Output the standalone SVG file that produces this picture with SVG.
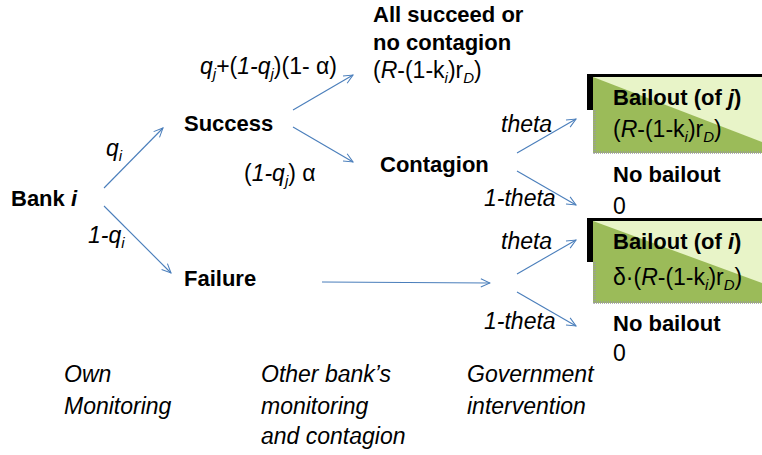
<svg xmlns="http://www.w3.org/2000/svg" width="762" height="455" viewBox="0 0 762 455">
<defs>
<style>
text{font-family:"Liberation Sans",Arial,sans-serif;font-size:23px;fill:#000}
.b{font-weight:bold;font-size:22px}
.i{font-style:italic}
.s{font-size:15px}
.c{stroke:#4a7ebb;stroke-width:1.1;fill:none;marker-end:url(#ah)}
.dk{fill:#9bbb59}
.lt{fill:#e8f4c8}
.edge{fill:none;stroke:#9a9a9a;stroke-width:2.5;stroke-dasharray:1 1}
</style>
<marker id="ah" viewBox="0 0 12 12" refX="11" refY="6" markerWidth="11" markerHeight="11" markerUnits="userSpaceOnUse" orient="auto">
<path d="M1,1.5 L11,6 L1,10.5" fill="none" stroke="#4a7ebb" stroke-width="1.1"/>
</marker>
</defs>
<rect width="762" height="455" fill="#fff"/>

<g id="connectors">
<path class="c" d="M104,188 L163,128"/>
<path class="c" d="M104,206 L171,273"/>
<path class="c" d="M293,110 L353,75"/>
<path class="c" d="M293,127 L353,162"/>
<path class="c" d="M322,282 L490,283"/>
<path class="c" d="M517,153 L576,119"/>
<path class="c" d="M517,171 L576,205"/>
<path class="c" d="M517,274 L576,240"/>
<path class="c" d="M517,292 L576,326"/>
</g>

<g id="bank-i"><text x="11" y="206" class="b">Bank <tspan class="i">i</tspan></text></g>
<g id="label-qi"><text x="106" y="156" class="i">q<tspan class="s" dy="5">i</tspan></text></g>
<g id="label-1-qi"><text x="88" y="243" class="i">1-q<tspan class="s" dy="5">i</tspan></text></g>
<g id="success"><text x="184" y="131" class="b">Success</text></g>
<g id="failure"><text x="184" y="286" class="b">Failure</text></g>
<g id="label-top"><text x="200" y="74"><tspan class="i">q</tspan><tspan class="s i" dy="5">j</tspan><tspan dy="-5">+(</tspan><tspan class="i">1-q</tspan><tspan class="s i" dy="5">j</tspan><tspan dy="-5">)(1- α)</tspan></text></g>
<g id="label-contagion"><text x="244" y="181">(<tspan class="i">1-q</tspan><tspan class="s i" dy="5">j</tspan><tspan dy="-5">) α</tspan></text></g>
<g id="all-succeed">
<text x="373" y="22" class="b">All succeed or</text>
<text x="373" y="50" class="b">no contagion</text>
<text x="373" y="78">(<tspan class="i">R</tspan>-(1-k<tspan class="s i" dy="5">i</tspan><tspan dy="-5">)r</tspan><tspan class="s i" dy="5">D</tspan><tspan dy="-5">)</tspan></text>
</g>
<g id="contagion"><text x="380" y="172" class="b">Contagion</text></g>

<g id="theta-labels">
<text x="501" y="132" class="i">theta</text>
<text x="484" y="206" class="i">1-theta</text>
<text x="501" y="249" class="i">theta</text>
<text x="484" y="329" class="i">1-theta</text>
</g>

<g id="bailout-j">
<rect x="587" y="74" width="175" height="36" fill="#000"/>
<rect class="dk" x="593" y="77" width="169" height="76"/>
<polygon class="lt" points="593,77 762,77 762,142"/>
<path class="edge" d="M594.5,110 V152.5 H762"/>
<text x="613" y="105" class="b">Bailout (of <tspan class="i">j</tspan>)</text>
<text x="613" y="137">(<tspan class="i">R</tspan>-(1-k<tspan class="s i" dy="5">i</tspan><tspan dy="-5">)r</tspan><tspan class="s i" dy="5">D</tspan><tspan dy="-5">)</tspan></text>
</g>
<g id="no-bailout-1">
<text x="613" y="182" class="b">No bailout</text>
<text x="613" y="214">0</text>
</g>
<g id="bailout-i">
<rect x="587" y="218" width="175" height="44" fill="#000"/>
<rect class="dk" x="593" y="221" width="169" height="82"/>
<polygon class="lt" points="593,221 762,221 762,283"/>
<path class="edge" d="M594.5,262 V302.5 H762"/>
<text x="613" y="249" class="b">Bailout (of <tspan class="i">i</tspan>)</text>
<text x="613" y="285">δ·(<tspan class="i">R</tspan>-(1-k<tspan class="s i" dy="5">i</tspan><tspan dy="-5">)r</tspan><tspan class="s i" dy="5">D</tspan><tspan dy="-5">)</tspan></text>
</g>
<g id="no-bailout-2">
<text x="613" y="331" class="b">No bailout</text>
<text x="613" y="361">0</text>
</g>

<g id="stage-labels">
<text x="64" y="382" class="i">Own</text>
<text x="64" y="414" class="i">Monitoring</text>
<text x="261" y="382" class="i">Other bank’s</text>
<text x="261" y="414" class="i">monitoring</text>
<text x="261" y="444" class="i">and contagion</text>
<text x="467" y="382" class="i">Government</text>
<text x="467" y="414" class="i">intervention</text>
</g>
</svg>
